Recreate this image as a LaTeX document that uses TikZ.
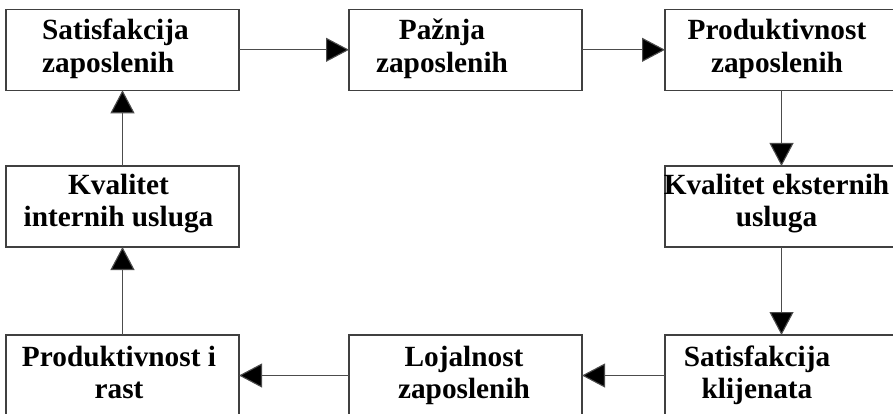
\documentclass[tikz,border=0pt]{standalone}
\usepackage{fontspec}
\setmainfont{Liberation Serif}
\usetikzlibrary{arrows.meta}
\definecolor{boxgray}{gray}{0.25}
\definecolor{linegray}{gray}{0.3}
\begin{document}
\begin{tikzpicture}[x=1pt,y=-1pt,
  box/.style={draw=boxgray, line width=1.3pt, minimum width=233pt, minimum height=81pt, inner sep=0pt, outer sep=0pt, anchor=north west},
  lbl/.style={font=\fontsize{29.3}{32.5}\selectfont\bfseries, inner sep=0pt, anchor=base, align=center},
  conn/.style={draw=linegray, line width=1.1pt, -{Triangle[length=23pt,width=24pt,fill=black]}}]
\useasboundingbox (0,0) rectangle (893,414);
\clip (0,0) rectangle (893,414);
% boxes
\node[box] (b1) at (6,9.3) {};
\node[box] (b2) at (349,9.3) {};
\node[box] (b3) at (665,9.3) {};
\node[box] (b4) at (6,166) {};
\node[box] (b5) at (665,166) {};
\node[box] (b6) at (6,335) {};
\node[box] (b7) at (349,335) {};
\node[box] (b8) at (665,335) {};
% labels (anchor at baseline of the last line)
\node[lbl, anchor=base west, align=left] (t1) at (42,72.5) {Satisfakcija\\zaposlenih};
\node[lbl] (t2) at (442,72.5) {Pažnja\\zaposlenih};
\node[lbl] (t3) at (777,72.5) {Produktivnost\\zaposlenih};
\node[lbl] (t4) at (118.5,226.5) {Kvalitet\\internih usluga};
\node[lbl] (t5) at (776.5,226.5) {Kvalitet eksternih\\usluga};
\node[lbl] (t6) at (119,398.5) {Produktivnost i\\rast};
\node[lbl] (t7) at (464,398.5) {Lojalnost\\zaposlenih};
\node[lbl] (t8) at (757,398.5) {Satisfakcija\\klijenata};
% connectors
\draw[conn] (b1) -- (b2);
\draw[conn] (b2) -- (b3);
\draw[conn] (b3) -- (b5);
\draw[conn] (b5) -- (b8);
\draw[conn] (b8) -- (b7);
\draw[conn] (b7) -- (b6);
\draw[conn] (b6) -- (b4);
\draw[conn] (b4) -- (b1);
\end{tikzpicture}
\end{document}
